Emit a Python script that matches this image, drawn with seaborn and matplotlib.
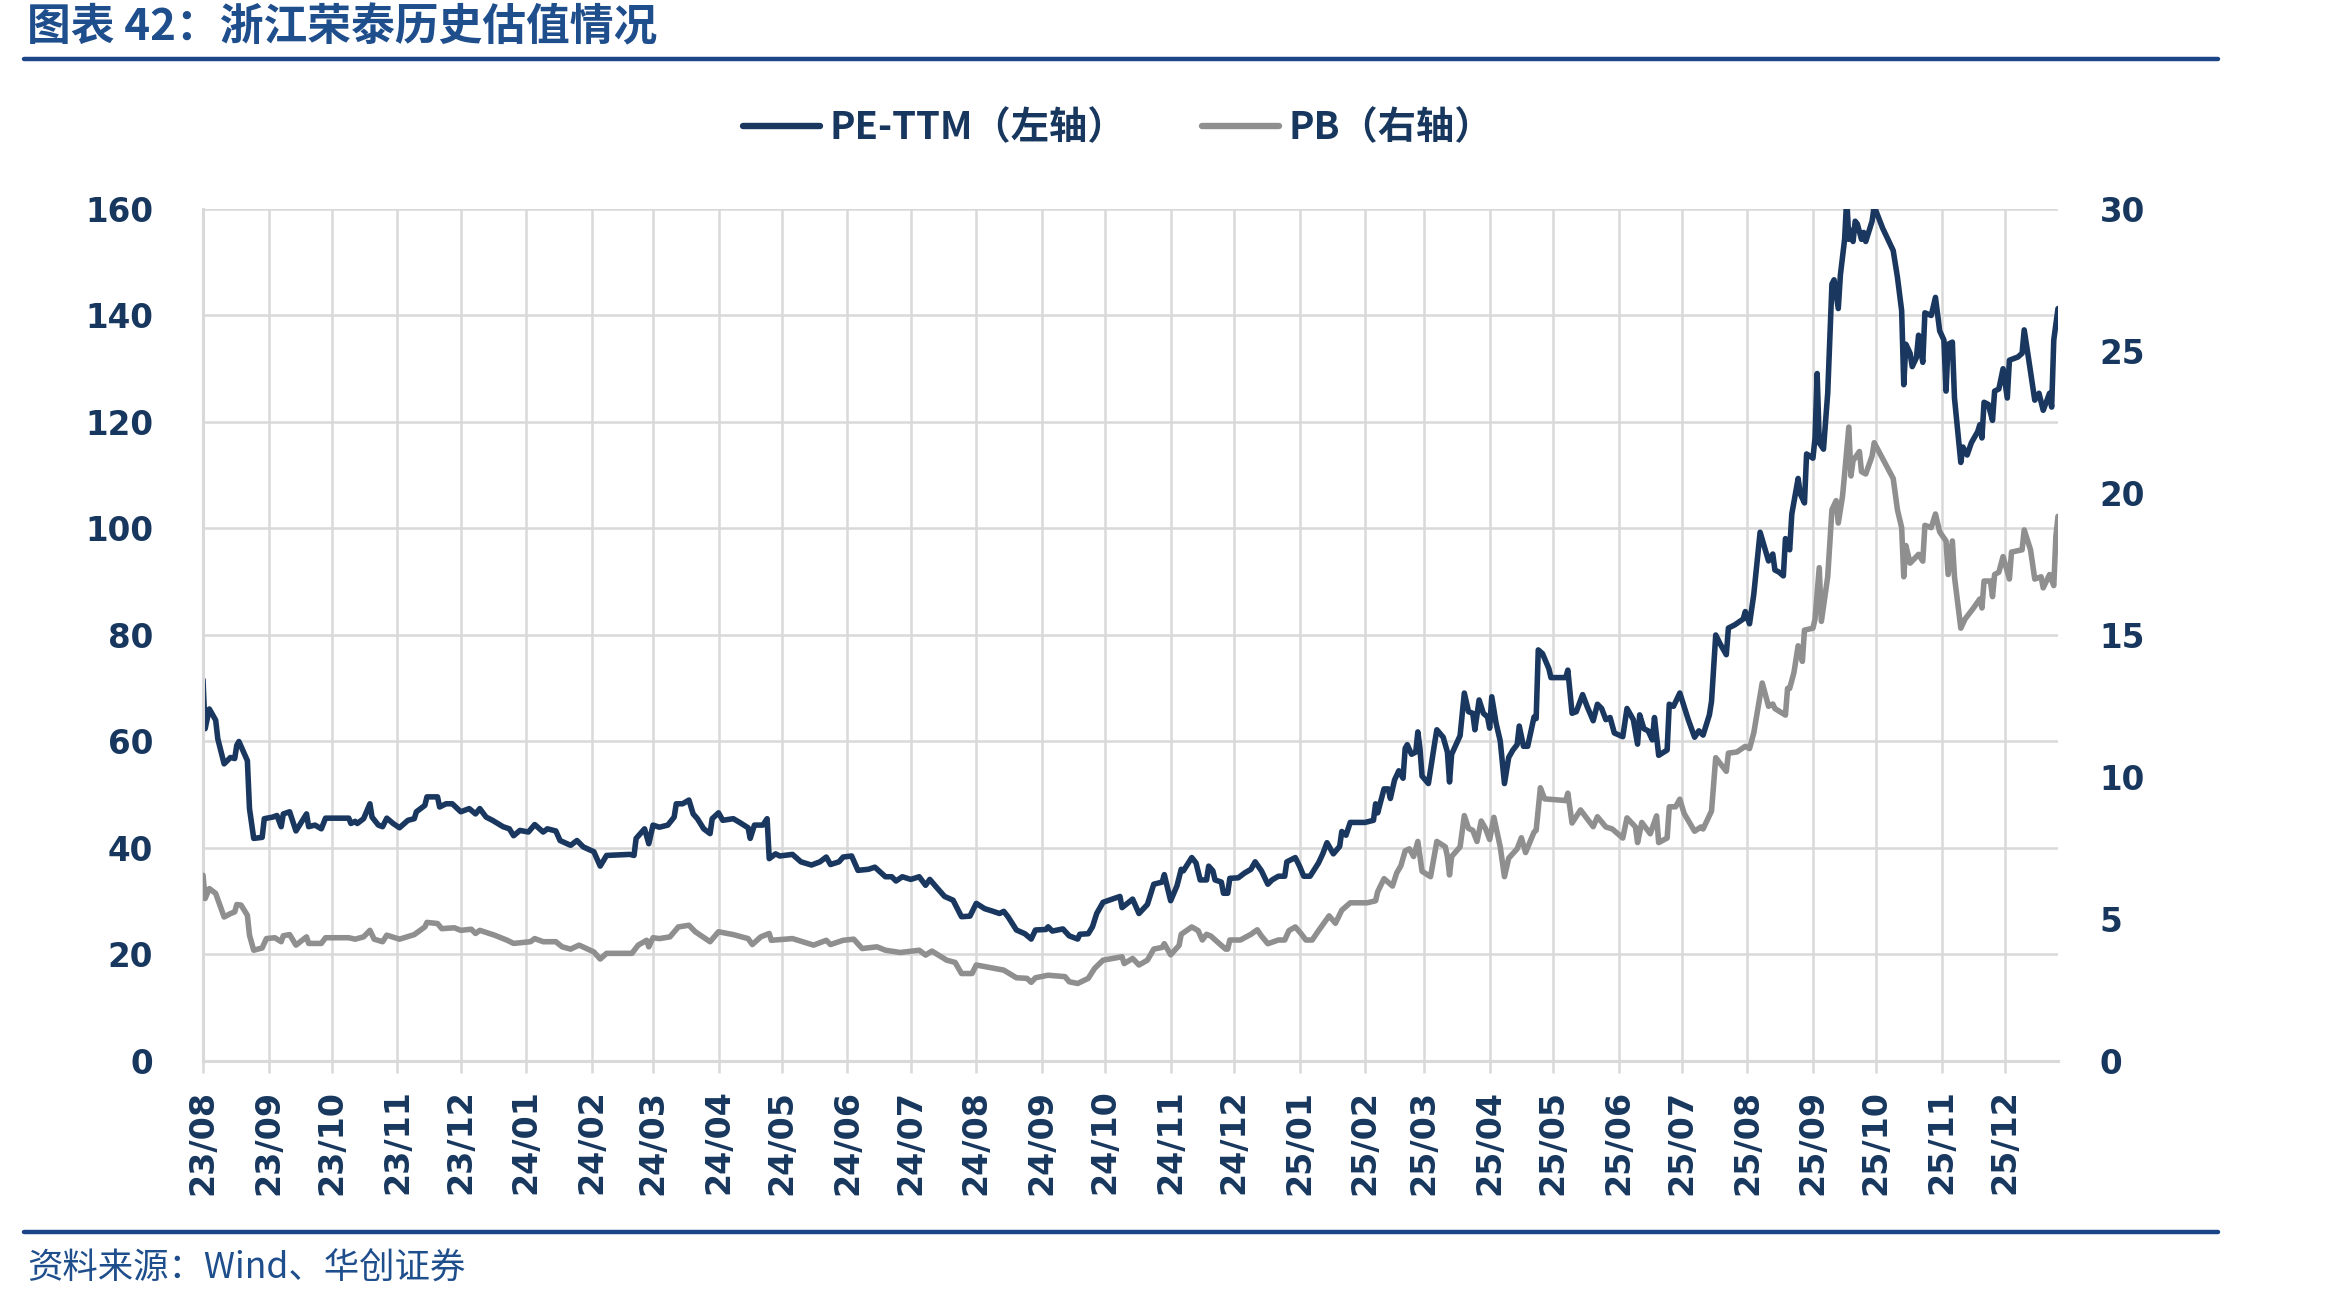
import matplotlib
matplotlib.use("Agg")
import matplotlib.pyplot as plt
import matplotlib.dates as mdates
from matplotlib.lines import Line2D
import seaborn as sns
import pandas as pd

# ---------------- data ----------------
pe_dates = [
    "2023-08-01", "2023-08-02", "2023-08-04", "2023-08-07", "2023-08-08", "2023-08-11", "2023-08-14",
    "2023-08-16", "2023-08-17", "2023-08-18", "2023-08-22", "2023-08-23", "2023-08-25", "2023-08-29",
    "2023-08-30", "2023-09-03", "2023-09-05", "2023-09-07", "2023-09-08", "2023-09-11", "2023-09-14",
    "2023-09-19", "2023-09-20", "2023-09-23", "2023-09-26", "2023-09-28", "2023-10-09", "2023-10-10",
    "2023-10-12", "2023-10-13", "2023-10-16", "2023-10-19", "2023-10-20", "2023-10-23", "2023-10-25",
    "2023-10-27", "2023-10-30", "2023-11-02", "2023-11-06", "2023-11-09", "2023-11-10", "2023-11-14",
    "2023-11-15", "2023-11-20", "2023-11-21", "2023-11-24", "2023-11-27", "2023-12-01", "2023-12-05",
    "2023-12-08", "2023-12-10", "2023-12-13", "2023-12-16", "2023-12-21", "2023-12-24", "2023-12-26",
    "2023-12-29", "2024-01-02", "2024-01-05", "2024-01-09", "2024-01-11", "2024-01-15", "2024-01-17",
    "2024-01-22", "2024-01-25", "2024-01-28", "2024-02-02", "2024-02-05", "2024-02-08", "2024-02-19",
    "2024-02-21", "2024-02-22", "2024-02-26", "2024-02-28", "2024-03-01", "2024-03-04", "2024-03-08",
    "2024-03-11", "2024-03-12", "2024-03-15", "2024-03-18", "2024-03-20", "2024-03-22", "2024-03-25",
    "2024-03-28", "2024-03-29", "2024-04-01", "2024-04-03", "2024-04-08", "2024-04-11", "2024-04-15",
    "2024-04-16", "2024-04-18", "2024-04-22", "2024-04-24", "2024-04-25", "2024-04-28", "2024-04-30",
    "2024-05-06", "2024-05-10", "2024-05-15", "2024-05-19", "2024-05-22", "2024-05-24", "2024-05-28",
    "2024-05-30", "2024-06-03", "2024-06-06", "2024-06-11", "2024-06-14", "2024-06-19", "2024-06-22",
    "2024-06-24", "2024-06-27", "2024-07-01", "2024-07-05", "2024-07-08", "2024-07-10", "2024-07-13",
    "2024-07-17", "2024-07-21", "2024-07-25", "2024-07-29", "2024-08-01", "2024-08-05", "2024-08-09",
    "2024-08-12", "2024-08-14", "2024-08-16", "2024-08-20", "2024-08-24", "2024-08-27", "2024-08-29",
    "2024-09-03", "2024-09-04", "2024-09-06", "2024-09-11", "2024-09-14", "2024-09-18", "2024-09-19",
    "2024-09-23", "2024-09-25", "2024-09-27", "2024-09-30", "2024-10-08", "2024-10-09", "2024-10-14",
    "2024-10-17", "2024-10-21", "2024-10-24", "2024-10-28", "2024-10-29", "2024-11-01", "2024-11-04",
    "2024-11-06", "2024-11-07", "2024-11-11", "2024-11-13", "2024-11-15", "2024-11-18", "2024-11-19",
    "2024-11-21", "2024-11-22", "2024-11-25", "2024-11-26", "2024-11-28", "2024-11-29", "2024-12-03",
    "2024-12-06", "2024-12-09", "2024-12-11", "2024-12-14", "2024-12-17", "2024-12-19", "2024-12-22",
    "2024-12-25", "2024-12-26", "2024-12-30", "2025-01-01", "2025-01-03", "2025-01-06", "2025-01-10",
    "2025-01-12", "2025-01-14", "2025-01-17", "2025-01-20", "2025-01-21", "2025-01-23", "2025-01-25",
    "2025-02-01", "2025-02-05", "2025-02-06", "2025-02-07", "2025-02-10", "2025-02-12", "2025-02-13",
    "2025-02-15", "2025-02-17", "2025-02-19", "2025-02-20", "2025-02-21", "2025-02-23", "2025-02-25",
    "2025-02-26", "2025-02-27", "2025-02-28", "2025-03-03", "2025-03-06", "2025-03-07", "2025-03-10",
    "2025-03-12", "2025-03-13", "2025-03-14", "2025-03-18", "2025-03-20", "2025-03-22", "2025-03-24",
    "2025-03-25", "2025-03-27", "2025-03-29", "2025-03-31", "2025-04-01", "2025-04-02", "2025-04-04",
    "2025-04-06", "2025-04-08", "2025-04-10", "2025-04-12", "2025-04-14", "2025-04-15", "2025-04-17",
    "2025-04-19", "2025-04-22", "2025-04-23", "2025-04-24", "2025-04-26", "2025-04-29", "2025-04-30",
    "2025-05-07", "2025-05-08", "2025-05-10", "2025-05-12", "2025-05-15", "2025-05-17", "2025-05-20",
    "2025-05-22", "2025-05-24", "2025-05-26", "2025-05-28", "2025-05-30", "2025-06-03", "2025-06-05",
    "2025-06-08", "2025-06-10", "2025-06-11", "2025-06-13", "2025-06-15", "2025-06-17", "2025-06-18",
    "2025-06-20", "2025-06-24", "2025-06-25", "2025-06-27", "2025-06-30", "2025-07-02", "2025-07-04",
    "2025-07-07", "2025-07-09", "2025-07-11", "2025-07-14", "2025-07-15", "2025-07-17", "2025-07-19",
    "2025-07-22", "2025-07-23", "2025-07-26", "2025-07-30", "2025-07-31", "2025-08-02", "2025-08-04",
    "2025-08-07", "2025-08-11", "2025-08-13", "2025-08-14", "2025-08-16", "2025-08-18", "2025-08-19",
    "2025-08-21", "2025-08-22", "2025-08-25", "2025-08-26", "2025-08-28", "2025-08-29", "2025-09-01",
    "2025-09-02", "2025-09-03", "2025-09-04", "2025-09-06", "2025-09-08", "2025-09-10", "2025-09-11",
    "2025-09-13", "2025-09-14", "2025-09-16", "2025-09-17", "2025-09-18", "2025-09-19", "2025-09-20",
    "2025-09-21", "2025-09-22", "2025-09-24", "2025-09-25", "2025-09-26", "2025-09-29", "2025-09-30",
    "2025-10-04", "2025-10-09", "2025-10-11", "2025-10-13", "2025-10-14", "2025-10-15", "2025-10-17",
    "2025-10-18", "2025-10-20", "2025-10-21", "2025-10-23", "2025-10-24", "2025-10-27", "2025-10-29",
    "2025-10-31", "2025-11-02", "2025-11-03", "2025-11-04", "2025-11-06", "2025-11-07", "2025-11-10",
    "2025-11-11", "2025-11-13", "2025-11-15", "2025-11-18", "2025-11-19", "2025-11-20", "2025-11-21",
    "2025-11-23", "2025-11-25", "2025-11-26", "2025-11-28", "2025-11-30", "2025-12-02", "2025-12-03",
    "2025-12-07", "2025-12-09", "2025-12-10", "2025-12-12", "2025-12-15", "2025-12-17", "2025-12-19",
    "2025-12-22", "2025-12-23", "2025-12-24", "2025-12-26",
]
pe_values = [
    71.6, 62.4, 66.1, 64.0, 60.5, 55.8, 57.0,
    56.8, 59.3, 60.0, 56.4, 47.4, 41.8, 42.0,
    45.5, 45.8, 46.1, 44.0, 46.4, 46.8, 43.2,
    46.4, 44.0, 44.3, 43.6, 45.6, 45.6, 44.6,
    45.0, 44.6, 45.5, 48.3, 45.8, 44.3, 44.0,
    45.6, 44.6, 43.8, 45.2, 45.5, 46.8, 48.0,
    49.6, 49.6, 47.7, 48.3, 48.3, 46.8, 47.4,
    46.4, 47.4, 45.8, 45.2, 44.0, 43.6, 42.3,
    43.3, 43.0, 44.4, 43.0, 43.6, 43.2, 41.4,
    40.5, 41.4, 40.2, 39.3, 36.6, 38.6, 38.8,
    38.6, 41.8, 43.6, 40.8, 44.3, 43.9, 44.3,
    45.8, 48.3, 48.3, 49.0, 46.4, 45.5, 43.6,
    42.7, 45.5, 46.6, 45.2, 45.5, 44.8, 43.8,
    41.8, 44.3, 44.3, 45.5, 38.0, 38.9, 38.5,
    38.8, 37.4, 36.8, 37.4, 38.3, 36.9, 37.4,
    38.3, 38.5, 35.8, 36.0, 36.4, 34.6, 34.6,
    33.8, 34.6, 34.1, 34.6, 33.0, 34.1, 32.7,
    30.9, 30.2, 27.1, 27.2, 29.6, 28.6, 28.1,
    27.7, 28.1, 27.1, 24.6, 23.9, 22.9, 24.6,
    24.7, 25.2, 24.4, 24.8, 23.5, 22.9, 23.8,
    23.9, 25.2, 27.7, 29.8, 30.9, 28.8, 30.4,
    27.7, 29.4, 33.2, 33.6, 35.0, 30.1, 32.9,
    36.0, 35.7, 38.2, 37.2, 34.0, 34.0, 36.6,
    35.7, 34.0, 33.6, 31.5, 31.5, 34.3, 34.4,
    35.3, 36.0, 37.4, 35.7, 33.2, 34.0, 34.7,
    34.7, 37.4, 38.2, 36.6, 34.7, 34.7, 37.2,
    38.9, 41.0, 38.9, 40.3, 43.1, 42.4, 44.8,
    44.8, 45.2, 48.3, 46.6, 51.1, 51.1, 49.3,
    52.8, 54.5, 53.1, 58.7, 59.4, 57.6, 58.0,
    61.8, 58.7, 53.5, 52.1, 59.8, 62.2, 60.8,
    58.0, 52.4, 57.6, 61.1, 69.1, 65.6, 65.3,
    62.2, 67.8, 65.3, 64.6, 62.5, 68.4, 63.5,
    60.1, 52.1, 57.0, 58.4, 59.4, 62.9, 59.1,
    59.1, 64.6, 64.3, 77.2, 76.5, 73.7, 72.0,
    72.0, 73.4, 65.3, 65.6, 68.8, 66.7, 63.9,
    67.0, 66.2, 64.1, 64.5, 61.6, 60.9, 66.2,
    64.1, 59.5, 65.0, 62.4, 62.0, 60.3, 64.5,
    57.4, 58.4, 67.0, 66.6, 69.1, 66.6, 64.1,
    60.8, 62.0, 61.2, 65.0, 67.5, 80.0, 78.4,
    76.3, 81.3, 81.9, 83.0, 84.4, 82.1, 87.6,
    99.3, 93.9, 95.2, 92.2, 91.8, 91.1, 98.1,
    96.0, 102.7, 109.4, 106.5, 104.8, 114.0, 113.2,
    117.0, 129.1, 116.1, 114.9, 125.4, 145.9, 146.7,
    141.3, 147.6, 154.3, 162.0, 154.3, 156.0, 153.9,
    157.7, 157.2, 154.3, 155.6, 153.9, 157.7, 160.5,
    156.4, 152.2, 147.2, 140.9, 127.0, 134.6, 132.9,
    130.4, 132.1, 136.3, 131.2, 140.5, 140.0, 143.4,
    137.1, 135.4, 125.8, 134.6, 135.0, 124.5, 112.4,
    115.3, 113.8, 116.1, 118.2, 119.5, 117.0, 123.7,
    123.3, 120.3, 125.8, 126.2, 130.0, 124.5, 131.6,
    132.2, 132.9, 137.3, 132.1, 124.1, 125.4, 122.2,
    125.4, 122.8, 135.4, 141.3,
]

pb_dates = [
    "2023-08-01", "2023-08-02", "2023-08-04", "2023-08-07", "2023-08-09", "2023-08-11", "2023-08-14",
    "2023-08-16", "2023-08-17", "2023-08-19", "2023-08-22", "2023-08-23", "2023-08-25", "2023-08-29",
    "2023-08-31", "2023-09-04", "2023-09-07", "2023-09-08", "2023-09-11", "2023-09-14", "2023-09-19",
    "2023-09-20", "2023-09-26", "2023-09-28", "2023-10-09", "2023-10-12", "2023-10-16", "2023-10-19",
    "2023-10-21", "2023-10-25", "2023-10-27", "2023-11-02", "2023-11-09", "2023-11-14", "2023-11-15",
    "2023-11-20", "2023-11-22", "2023-11-28", "2023-12-01", "2023-12-06", "2023-12-08", "2023-12-10",
    "2023-12-17", "2023-12-23", "2023-12-26", "2024-01-03", "2024-01-05", "2024-01-09", "2024-01-15",
    "2024-01-18", "2024-01-22", "2024-01-26", "2024-02-02", "2024-02-05", "2024-02-08", "2024-02-20",
    "2024-02-23", "2024-02-27", "2024-02-28", "2024-03-01", "2024-03-04", "2024-03-09", "2024-03-13",
    "2024-03-18", "2024-03-21", "2024-03-28", "2024-04-01", "2024-04-08", "2024-04-15", "2024-04-17",
    "2024-04-21", "2024-04-25", "2024-04-26", "2024-05-06", "2024-05-16", "2024-05-22", "2024-05-24",
    "2024-05-30", "2024-06-04", "2024-06-08", "2024-06-15", "2024-06-19", "2024-06-26", "2024-07-05",
    "2024-07-08", "2024-07-11", "2024-07-18", "2024-07-22", "2024-07-25", "2024-07-30", "2024-08-01",
    "2024-08-14", "2024-08-20", "2024-08-25", "2024-08-27", "2024-08-29", "2024-09-04", "2024-09-12",
    "2024-09-14", "2024-09-18", "2024-09-23", "2024-09-26", "2024-09-30", "2024-10-09", "2024-10-10",
    "2024-10-14", "2024-10-17", "2024-10-21", "2024-10-24", "2024-10-28", "2024-10-29", "2024-11-01",
    "2024-11-05", "2024-11-06", "2024-11-11", "2024-11-14", "2024-11-16", "2024-11-18", "2024-11-20",
    "2024-11-23", "2024-11-27", "2024-11-28", "2024-11-29", "2024-12-04", "2024-12-09", "2024-12-12",
    "2024-12-14", "2024-12-17", "2024-12-22", "2024-12-25", "2024-12-27", "2024-12-30", "2025-01-02",
    "2025-01-04", "2025-01-07", "2025-01-10", "2025-01-15", "2025-01-18", "2025-01-21", "2025-01-25",
    "2025-02-02", "2025-02-06", "2025-02-07", "2025-02-10", "2025-02-14", "2025-02-16", "2025-02-18",
    "2025-02-20", "2025-02-22", "2025-02-24", "2025-02-26", "2025-02-28", "2025-03-04", "2025-03-07",
    "2025-03-11", "2025-03-12", "2025-03-13", "2025-03-14", "2025-03-18", "2025-03-20", "2025-03-22",
    "2025-03-24", "2025-03-26", "2025-03-28", "2025-03-30", "2025-04-01", "2025-04-03", "2025-04-06",
    "2025-04-08", "2025-04-10", "2025-04-14", "2025-04-16", "2025-04-18", "2025-04-22", "2025-04-23",
    "2025-04-25", "2025-04-27", "2025-05-07", "2025-05-08", "2025-05-10", "2025-05-14", "2025-05-20",
    "2025-05-22", "2025-05-26", "2025-05-29", "2025-06-03", "2025-06-05", "2025-06-09", "2025-06-10",
    "2025-06-12", "2025-06-16", "2025-06-19", "2025-06-20", "2025-06-24", "2025-06-25", "2025-06-28",
    "2025-06-30", "2025-07-02", "2025-07-07", "2025-07-10", "2025-07-11", "2025-07-15", "2025-07-17",
    "2025-07-22", "2025-07-23", "2025-07-27", "2025-07-31", "2025-08-02", "2025-08-04", "2025-08-08",
    "2025-08-11", "2025-08-13", "2025-08-14", "2025-08-19", "2025-08-20", "2025-08-21", "2025-08-23",
    "2025-08-25", "2025-08-27", "2025-08-28", "2025-09-01", "2025-09-02", "2025-09-04", "2025-09-05",
    "2025-09-08", "2025-09-10", "2025-09-12", "2025-09-13", "2025-09-15", "2025-09-16", "2025-09-18",
    "2025-09-19", "2025-09-20", "2025-09-23", "2025-09-24", "2025-09-26", "2025-09-29", "2025-09-30",
    "2025-10-09", "2025-10-11", "2025-10-13", "2025-10-14", "2025-10-15", "2025-10-17", "2025-10-21",
    "2025-10-23", "2025-10-24", "2025-10-27", "2025-10-29", "2025-10-31", "2025-11-03", "2025-11-04",
    "2025-11-06", "2025-11-07", "2025-11-10", "2025-11-12", "2025-11-16", "2025-11-19", "2025-11-20",
    "2025-11-21", "2025-11-24", "2025-11-25", "2025-11-26", "2025-11-28", "2025-11-30", "2025-12-03",
    "2025-12-04", "2025-12-09", "2025-12-10", "2025-12-13", "2025-12-15", "2025-12-18", "2025-12-19",
    "2025-12-22", "2025-12-24", "2025-12-25", "2025-12-26",
]
pb_values = [
    6.54, 5.72, 6.07, 5.90, 5.49, 5.07, 5.19,
    5.25, 5.51, 5.49, 5.13, 4.43, 3.90, 3.98,
    4.31, 4.34, 4.20, 4.41, 4.45, 4.08, 4.37,
    4.14, 4.14, 4.34, 4.34, 4.29, 4.37, 4.60,
    4.29, 4.20, 4.43, 4.29, 4.45, 4.72, 4.88,
    4.84, 4.66, 4.69, 4.60, 4.64, 4.49, 4.60,
    4.43, 4.25, 4.14, 4.20, 4.31, 4.20, 4.20,
    4.02, 3.94, 4.08, 3.84, 3.59, 3.79, 3.79,
    4.08, 4.25, 4.02, 4.34, 4.31, 4.37, 4.72,
    4.78, 4.55, 4.20, 4.55, 4.45, 4.31, 4.10,
    4.37, 4.49, 4.25, 4.31, 4.08, 4.25, 4.10,
    4.25, 4.29, 3.96, 4.02, 3.90, 3.82, 3.90,
    3.73, 3.87, 3.55, 3.47, 3.08, 3.08, 3.38,
    3.20, 2.93, 2.91, 2.77, 2.93, 3.02, 2.97,
    2.79, 2.73, 2.91, 3.26, 3.55, 3.67, 3.43,
    3.61, 3.38, 3.55, 3.94, 4.00, 4.13, 3.74,
    4.07, 4.46, 4.72, 4.59, 4.26, 4.46, 4.40,
    4.20, 3.94, 3.94, 4.26, 4.26, 4.46, 4.62,
    4.40, 4.13, 4.26, 4.26, 4.59, 4.72, 4.46,
    4.26, 4.26, 4.59, 5.11, 4.85, 5.31, 5.57,
    5.57, 5.64, 5.96, 6.42, 6.16, 6.62, 6.88,
    7.40, 7.47, 7.20, 7.73, 6.68, 6.49, 7.73,
    7.54, 7.20, 6.55, 7.20, 7.54, 8.64, 8.19,
    8.12, 7.73, 8.45, 8.19, 7.80, 8.58, 7.54,
    6.49, 7.14, 7.47, 7.86, 7.34, 8.06, 8.12,
    9.62, 9.23, 9.17, 9.43, 8.38, 8.84, 8.25,
    8.60, 8.24, 8.17, 7.85, 8.56, 8.24, 7.69,
    8.40, 8.00, 8.63, 7.69, 7.85, 8.95, 8.95,
    9.22, 8.72, 8.09, 8.24, 8.17, 8.80, 10.68,
    10.20, 10.84, 10.88, 11.08, 11.00, 11.55, 13.31,
    12.49, 12.57, 12.41, 12.18, 13.12, 13.12, 13.67,
    14.62, 14.07, 15.17, 15.24, 15.56, 17.37, 15.48,
    17.05, 19.41, 19.73, 18.94, 19.88, 20.67, 22.32,
    20.60, 21.14, 21.46, 20.75, 20.67, 21.30, 21.77,
    20.51, 19.41, 18.78, 17.05, 18.15, 17.53, 17.84,
    17.60, 18.86, 18.78, 19.26, 18.63, 18.31, 17.13,
    18.31, 17.05, 15.24, 15.56, 15.95, 16.27, 15.95,
    16.90, 16.90, 16.35, 17.13, 17.21, 17.76, 16.97,
    17.92, 18.00, 18.70, 18.00, 16.97, 17.05, 16.66,
    17.13, 16.74, 18.47, 19.18,
]

left_ticks = [0, 20, 40, 60, 80, 100, 120, 140, 160]
right_ticks = [0, 5, 10, 15, 20, 25, 30]
series_labels = ["PE-TTM（左轴）", "PB（右轴）"]
title_text = "图表 42：浙江荣泰历史估值情况"
source_text = "资料来源：Wind、华创证券"

# ---------------- styling ----------------
NAVY = "#19375F"
GREY = "#8F8F8F"
GRID = "#D9D9D9"
TXT = "#17375E"
BLUE = "#1F4E8C"

sns.set_theme(style="white")
plt.rcParams["font.family"] = ["Noto Sans CJK SC", "DejaVu Sans"]

pe_df = pd.DataFrame({"date": pd.to_datetime(pe_dates), "value": pe_values})
pb_df = pd.DataFrame({"date": pd.to_datetime(pb_dates), "value": pb_values})

fig = plt.figure(figsize=(23.27, 13.03), dpi=100)
ax = fig.add_axes([0.08724, 0.18573, 0.79716, 0.65388])
ax2 = ax.twinx()

sns.lineplot(data=pe_df, x="date", y="value", ax=ax, color=NAVY, linewidth=4.0,
             estimator=None, legend=False)
sns.lineplot(data=pb_df, x="date", y="value", ax=ax2, color=GREY, linewidth=4.0,
             estimator=None, legend=False)

ax.set_xlim(pd.Timestamp("2023-08-01"), pd.Timestamp("2025-12-26"))
ax.set_ylim(0, 160)
ax2.set_ylim(0, 30)
ax.set_yticks(left_ticks)
ax2.set_yticks(right_ticks)
ax.set_xlabel("")
ax.set_ylabel("")
ax2.set_ylabel("")

ax.xaxis.set_major_locator(mdates.MonthLocator())
ax.xaxis.set_major_formatter(mdates.DateFormatter("%y/%m"))

ax.grid(True, color=GRID, linewidth=1.8)
ax2.grid(False)

for s in ["top", "right"]:
    ax.spines[s].set_visible(False)
for s in ax2.spines.values():
    s.set_visible(False)
ax.spines["left"].set_color(GRID)
ax.spines["left"].set_linewidth(2.2)
ax.spines["bottom"].set_color(GRID)
ax.spines["bottom"].set_linewidth(2.2)

ax.tick_params(axis="x", length=8.6, width=1.8, color=GRID, pad=12, labelrotation=90,
               labelcolor=TXT, bottom=True)
ax.tick_params(axis="y", length=0, pad=36, labelcolor=TXT, left=True)
ax2.tick_params(axis="y", length=0, pad=30, labelcolor=TXT, right=True)
for lab in ax.get_xticklabels():
    lab.set_fontfamily("DejaVu Sans")
    lab.set_fontweight("bold")
    lab.set_fontsize(24)
for lab in ax.get_yticklabels() + ax2.get_yticklabels():
    lab.set_fontfamily("DejaVu Sans")
    lab.set_fontweight("bold")
    lab.set_fontsize(23.5)

# legend
handles = [
    Line2D([], [], color=NAVY, linewidth=4.6, solid_capstyle="round"),
    Line2D([], [], color=GREY, linewidth=4.6, solid_capstyle="round"),
]
leg = fig.legend(handles, series_labels, loc="center", bbox_to_anchor=(0.4805, 0.9018),
                 ncol=2, frameon=False, handlelength=2.0, handletextpad=0.25,
                 columnspacing=2.0,
                 prop=dict(family=["Noto Sans CJK SC", "DejaVu Sans"], weight="bold", size=27.5))
for t in leg.get_texts():
    t.set_color(TXT)

# title, rules and source
fig.text(0.0116, 0.979, title_text, ha="left", va="center", fontsize=31.5,
         fontweight="bold", color=BLUE, family=["Noto Sans CJK SC", "DejaVu Sans"])
fig.add_artist(Line2D([0.0103, 0.9531], [0.9547, 0.9547], transform=fig.transFigure,
                      color="#1C4587", linewidth=3.2))
fig.add_artist(Line2D([0.0103, 0.9531], [0.0545, 0.0545], transform=fig.transFigure,
                      color="#1C4587", linewidth=3.2))
fig.text(0.0116, 0.026, source_text, ha="left", va="center", fontsize=25.5,
         color=BLUE, style="italic", family=["Noto Sans CJK SC", "DejaVu Sans"])

fig.savefig("out.png", dpi=100)
